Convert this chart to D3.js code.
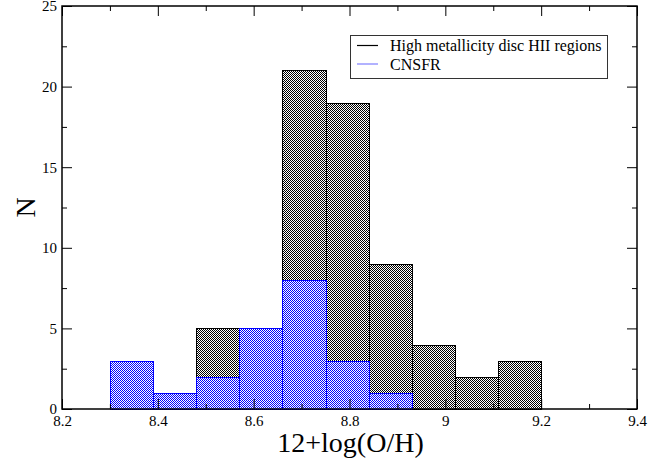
<!DOCTYPE html>
<html>
<head>
<meta charset="utf-8">
<script src="https://cdn.jsdelivr.net/npm/d3@7"></script>
<style>
  body { margin: 0; background: #fff; }
  svg { display: block; }
</style>
</head>
<body>
<svg id="chart" width="661" height="460"></svg>
<script>
// histogram bin edges (12+log(O/H))
const binEdges = [8.30, 8.39, 8.48, 8.57, 8.66, 8.75, 8.84, 8.93, 9.02, 9.11, 9.20]
const discCounts = [0, 1, 5, 5, 21, 19, 9, 4, 2, 3]
const cnsfrCounts = [3, 1, 2, 5, 8, 3, 1, 0, 0, 0]
const seriesNames = ["High metallicity disc HII regions", "CNSFR"]
const xTicks = [8.2, 8.4, 8.6, 8.8, 9, 9.2, 9.4]
const yTicks = [0, 5, 10, 15, 20, 25]

const serif = '"Liberation Serif", "Times New Roman", serif'

const margin = { top: 6, right: 24, bottom: 51, left: 62 }
const width = 661 - margin.left - margin.right
const height = 460 - margin.top - margin.bottom

const svg = d3.select("#chart")

// checkerboard fills, like the grace pattern fills
const defs = svg.append("defs")
const makePattern = (id, color) => {
  const p = defs.append("pattern")
    .attr("id", id)
    .attr("width", 2).attr("height", 2)
    .attr("patternUnits", "userSpaceOnUse")
  p.append("rect").attr("width", 2).attr("height", 2).attr("fill", "#fff")
  p.append("rect").attr("x", 0).attr("y", 0).attr("width", 1).attr("height", 1).attr("fill", color)
  p.append("rect").attr("x", 1).attr("y", 1).attr("width", 1).attr("height", 1).attr("fill", color)
}
makePattern("checkBlack", "#000")
makePattern("checkBlue", "#0000ff")

const g = svg.append("g")
  .attr("transform", `translate(${margin.left},${margin.top})`)

const x = d3.scaleLinear().domain([8.2, 9.4]).range([0, width])
const y = d3.scaleLinear().domain([0, 25]).range([height, 0])

const bins = (counts) => counts.map((c, i) => ({ x0: binEdges[i], x1: binEdges[i + 1], n: c }))

const drawHist = (counts, fill, stroke) => {
  g.append("g")
    .selectAll("rect")
    .data(bins(counts).filter(d => d.n > 0))
    .enter()
    .append("rect")
      .attr("x", d => Math.round(x(d.x0)) + 0.5)
      .attr("y", d => Math.round(y(d.n)) + 0.5)
      .attr("width", d => Math.round(x(d.x1)) - Math.round(x(d.x0)))
      .attr("height", d => Math.round(y(0)) - Math.round(y(d.n)))
      .attr("fill", fill)
      .attr("stroke", stroke)
      .attr("stroke-width", 1)
}
drawHist(discCounts, "url(#checkBlack)", "#000")
drawHist(cnsfrCounts, "url(#checkBlue)", "#0000ff")

// ticks inside the frame, on all four sides
const xMinor = d3.range(8.3, 9.4, 0.2)
const yMinor = d3.range(2.5, 25, 5)

const styleAxis = (sel) => {
  sel.attr("font-family", null)
  sel.select(".domain").remove()
  sel.selectAll("line").attr("stroke", "#000").attr("stroke-width", 1)
  sel.selectAll("text")
    .attr("fill", "#000")
    .style("font-size", "15px")
    .style("font-family", serif)
}

g.append("g")
  .attr("transform", `translate(0,${height})`)
  .call(d3.axisBottom(x).tickValues(xTicks).tickSize(-10).tickPadding(6).tickFormat(d3.format("")))
  .call(styleAxis)
g.append("g")
  .attr("transform", `translate(0,${height})`)
  .call(d3.axisBottom(x).tickValues(xMinor).tickSize(-5).tickFormat(""))
  .call(styleAxis)
g.append("g")
  .call(d3.axisTop(x).tickValues(xTicks).tickSize(-10).tickFormat(""))
  .call(styleAxis)
g.append("g")
  .call(d3.axisTop(x).tickValues(xMinor).tickSize(-5).tickFormat(""))
  .call(styleAxis)

g.append("g")
  .call(d3.axisLeft(y).tickValues(yTicks).tickSize(-10).tickPadding(5))
  .call(styleAxis)
g.append("g")
  .call(d3.axisLeft(y).tickValues(yMinor).tickSize(-5).tickFormat(""))
  .call(styleAxis)
g.append("g")
  .attr("transform", `translate(${width},0)`)
  .call(d3.axisRight(y).tickValues(yTicks).tickSize(-10).tickFormat(""))
  .call(styleAxis)
g.append("g")
  .attr("transform", `translate(${width},0)`)
  .call(d3.axisRight(y).tickValues(yMinor).tickSize(-5).tickFormat(""))
  .call(styleAxis)

// frame
g.append("rect")
  .attr("x", 0).attr("y", 0)
  .attr("width", width).attr("height", height)
  .attr("fill", "none")
  .attr("stroke", "#000")
  .attr("stroke-width", 1.5)

// axis titles
svg.append("text")
  .attr("x", margin.left + width / 2 + 1)
  .attr("y", 452)
  .attr("text-anchor", "middle")
  .style("font-family", serif)
  .style("font-size", "28px")
  .attr("fill", "#000")
  .text("12+log(O/H)")

svg.append("text")
  .attr("transform", `translate(35,${margin.top + height / 2}) rotate(-90)`)
  .attr("text-anchor", "middle")
  .style("font-family", serif)
  .style("font-size", "28px")
  .attr("fill", "#000")
  .text("N")

// legend
const legend = svg.append("g").attr("transform", "translate(350,35)")
legend.append("rect")
  .attr("x", 0.5).attr("y", 0.5)
  .attr("width", 257).attr("height", 43)
  .attr("fill", "#fff")
  .attr("stroke", "#333")
  .attr("stroke-width", 1)
const legendColors = ["#000", "#7f7fff"]
seriesNames.forEach((name, i) => {
  const cy = 10.5 + i * 18.5
  legend.append("line")
    .attr("x1", 7).attr("x2", 28)
    .attr("y1", cy).attr("y2", cy)
    .attr("stroke", legendColors[i])
    .attr("stroke-width", 1.2)
  legend.append("text")
    .attr("x", 40).attr("y", cy + 5.5)
    .style("font-family", serif)
    .style("font-size", "16px")
    .attr("fill", "#000")
    .text(name)
})
</script>
</body>
</html>
